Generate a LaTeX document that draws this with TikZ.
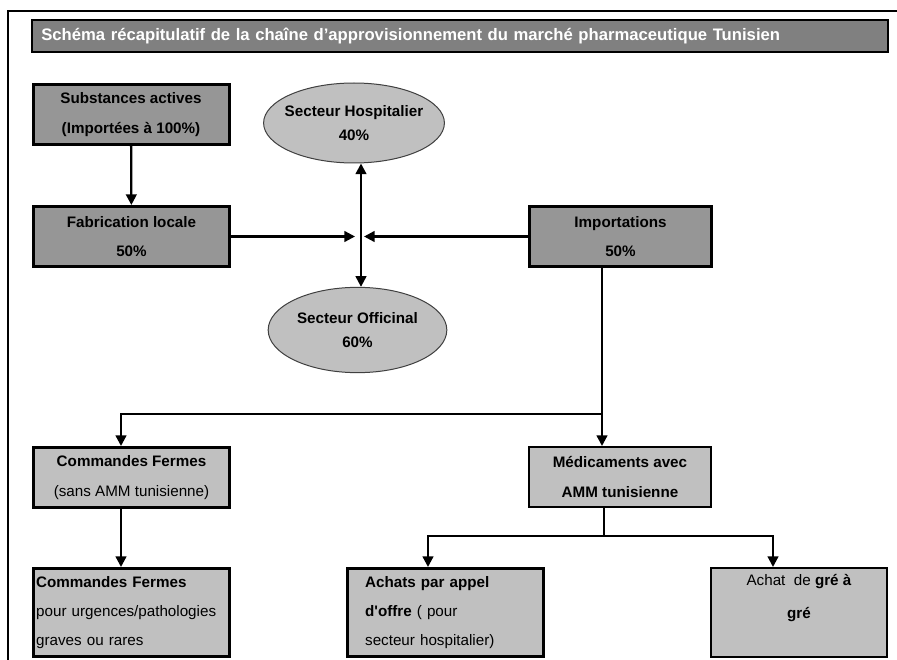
\documentclass[tikz,border=0pt]{standalone}
\usepackage{fontspec}
\setmainfont{Liberation Sans}
\usetikzlibrary{shapes,arrows.meta}
\definecolor{bannergray}{HTML}{808080}
\definecolor{boxdark}{HTML}{969696}
\definecolor{boxlight}{HTML}{C0C0C0}
\definecolor{ovalline}{HTML}{404040}
\tikzset{
	banner/.style   = {draw, line width=1.5pt, rectangle, fill=bannergray, text=white,
		font=\fontsize{12.5}{15}\selectfont\bfseries, align=left,
		text width=628pt, inner xsep=7pt, minimum height=24pt},
	block/.style    = {draw, line width=2.25pt, rectangle, fill=boxdark,
		font=\fontsize{11.4}{22}\selectfont\bfseries, align=center,
		minimum width=147pt, minimum height=45pt, inner sep=2pt},
	lblock/.style   = {block, fill=boxlight},
	plain/.style    = {font=\fontsize{11.4}{22}\selectfont},
	sector/.style   = {draw=ovalline, line width=0.75pt, ellipse, fill=boxlight,
		font=\fontsize{11.4}{18}\selectfont\bfseries, align=center,
		inner xsep=-4pt, inner ysep=0pt, minimum width=134pt, minimum height=60pt},
}
\begin{document}
\begin{tikzpicture}[ x=0.75pt, y=-0.75pt,              %<--one unit is one pixel of the sheet
                     line width=1.7pt,
                     >/.tip={Triangle[length=8pt, width=8pt]}
                     ]
    \useasboundingbox (0,0) rectangle (897,660);
    \draw[line width=1.5pt] (8,720) |- (960,11);

    %-- Blocks creation --%
    \draw
      % HEADER %
      node(title) at (460,36.5) [banner] {Schéma récapitulatif de la chaîne d’approvisionnement du marché pharmaceutique Tunisien}
    ;
    \draw
      % SOURCES %
      node(subst) at (131,114.5) [block] {Substances actives\\(Importées à 100\%)}
      node(fab) at (131.5,236.5) [block] {Fabrication locale\\50\%}
      node(import) at (620.5,236.5) [block, minimum width=136.5pt] {Importations\\50\%}

      node[shape=coordinate][](hubL) at (355,236.5){}
      node[shape=coordinate][](hub) at (361,236.5){}
      node[shape=coordinate][](hubR) at (364,236.5){}
    ;
    \draw
      % SECTORS %
      node(hosp) at (354,123) [sector] {Secteur Hospitalier\\40\%}
      node(offic) at (357.5,330) [sector, minimum height=64pt] {Secteur Officinal\\60\%}
    ;
    \draw
      % IMPORT CHANNELS %
      node[shape=coordinate][](splitA) at (602,414){}
      node[shape=coordinate][](railL) at (121,414){}
      node(cf1) at (131.5,477.5) [lblock] {Commandes Fermes\\\textnormal{(sans AMM tunisienne)}}
      node(medic) at (620,477) [lblock, line width=1.5pt, minimum width=136.5pt] {Médicaments avec\\AMM tunisienne}

      node[shape=coordinate][](splitB) at (604,536){}
      node[shape=coordinate][](achatsIn) at (428,536){}
      node[shape=coordinate][](greIn) at (773,536){}

      node(cf2) at (131.5,612.5) [lblock, plain, align=left, text width=143pt, minimum height=66pt]
        {\textbf{Commandes Fermes}\\pour urgences/pathologies\\graves ou rares}
      node(achats) at (445.5,612.5) [lblock, plain, align=left, text width=120.5pt, minimum height=66pt]
        {\textbf{Achats par appel}\\\textbf{d\textquotesingle offre} ( pour\\secteur hospitalier)}
      node(gre) at (799,612.5) [lblock, plain, line width=1.5pt, minimum width=132pt, minimum height=66.75pt,
                                font=\fontsize{11.4}{24.75}\selectfont, text height=33pt, text depth=24.75pt]
        {Achat~ de \textbf{gré à}\\\textbf{gré}}
    ;

    %-- Block linking --%
    % SOURCES %
    \draw[->] (subst)   -- (fab);
    \draw[->] (fab)     -- (hubL);
    \draw[->] (import)  -- (hubR);

    % SECTORS %
    \draw[<->] (hosp.south -| hub) -- (offic.north -| hub);

    % IMPORT CHANNELS %
    \draw      (import.south -| splitA) -- (splitA);
    \draw[->]  (splitA)                 -- (medic.north -| splitA);
    \draw[->]  (splitA) -- (railL)      -- (cf1.north -| railL);
    \draw[->]  (cf1.south -| railL)     -- (cf2.north -| railL);

    \draw      (medic.south -| splitB)  -- (splitB);
    \draw[->]  (splitB) -- (achatsIn)   -- (achats.north -| achatsIn);
    \draw[->]  (splitB) -- (greIn)      -- (gre.north -| greIn);

\end{tikzpicture}
\end{document}
